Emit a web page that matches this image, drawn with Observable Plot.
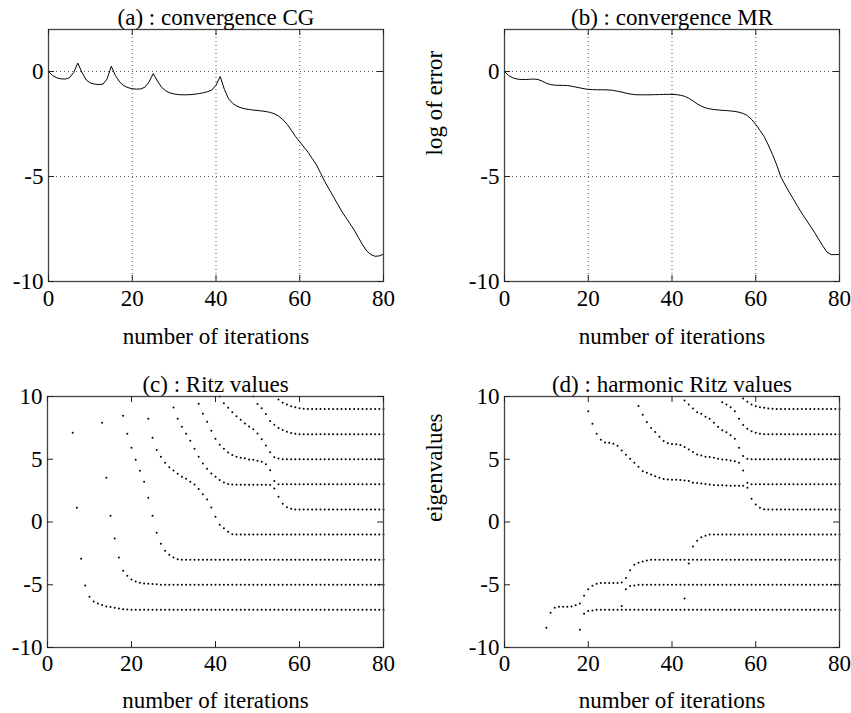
<!DOCTYPE html>
<html><head><meta charset="utf-8">
<script src="https://cdn.jsdelivr.net/npm/d3@7"></script>
<script src="https://cdn.jsdelivr.net/npm/@observablehq/plot@0.6"></script>
<style>
body{margin:0;background:#fff;}
#wrap{position:relative;width:851px;height:713px;background:#fff;}
#wrap svg{position:absolute;overflow:visible;}
</style></head><body><div id="wrap"></div>
<script>
// ---- data ----
const xTicks = [0, 20, 40, 60, 80];
const errTicks = [-10, -5, 0];
const eigTicks = [-10, -5, 0, 5, 10];
const lastIteration = 80;

// log of error per iteration 0..80
const cgError = [0,-0.2,-0.3,-0.35,-0.36,-0.3,-0.05,0.4,-0.05,-0.4,-0.55,-0.6,-0.62,-0.6,-0.35,0.25,-0.2,-0.5,-0.68,-0.77,
 -0.82,-0.84,-0.83,-0.75,-0.5,-0.1,-0.45,-0.75,-0.92,-1.02,-1.07,-1.1,-1.11,-1.11,-1.1,-1.08,-1.05,-1.01,-0.96,-0.88,
 -0.65,-0.24,-0.85,-1.3,-1.52,-1.65,-1.73,-1.78,-1.81,-1.84,-1.86,-1.88,-1.91,-1.95,-2.02,-2.13,-2.3,-2.52,-2.8,-3.1,
 -3.35,-3.6,-3.85,-4.15,-4.45,-4.85,-5.25,-5.6,-5.95,-6.3,-6.65,-6.95,-7.25,-7.55,-7.9,-8.25,-8.55,-8.72,-8.8,-8.78,-8.7];
const mrError = [0,-0.2,-0.3,-0.36,-0.38,-0.38,-0.37,-0.36,-0.38,-0.46,-0.56,-0.62,-0.65,-0.66,-0.66,-0.67,-0.7,-0.74,-0.78,-0.82,
 -0.85,-0.86,-0.87,-0.87,-0.87,-0.88,-0.9,-0.94,-0.98,-1.03,-1.07,-1.1,-1.11,-1.11,-1.11,-1.11,-1.1,-1.1,-1.09,-1.09,
 -1.09,-1.1,-1.13,-1.18,-1.27,-1.4,-1.54,-1.65,-1.73,-1.78,-1.81,-1.83,-1.85,-1.86,-1.88,-1.9,-1.94,-2.0,-2.1,-2.28,
 -2.52,-2.8,-3.1,-3.5,-3.95,-4.45,-5.02,-5.4,-5.75,-6.08,-6.42,-6.75,-7.05,-7.35,-7.65,-7.98,-8.3,-8.6,-8.72,-8.72,-8.71];

// Ritz values: each track starts at an iteration, follows its values, then stays at its converged value
const ritzStarts = [6, 13, 18, 24, 30, 36, 41, 49, 55];
const ritzPaths = [
 [7.11,1.13,-2.93,-5.06,-5.96,-6.33,-6.49,-6.62,-6.73,-6.78,-6.83,-6.89,-6.95,-6.98],
 [7.9,3.52,0.49,-1.31,-2.83,-3.89,-4.29,-4.58,-4.74,-4.85,-4.91,-4.93,-4.95,-4.97],
 [8.46,7.03,5.91,4.96,4.08,3.2,1.93,0.49,-0.86,-1.74,-2.29,-2.61,-2.83,-2.96],
 [8.22,6.71,5.73,5.2,4.72,4.37,4.1,3.84,3.6,3.44,3.2,2.99,2.62,2.22,1.8,1.16,0.42,-0.22,-0.49,-0.78,-0.97],
 [9.13,8.22,7.58,7.03,6.47,5.84,5.2,4.66,4.24,3.87,3.6,3.34,3.15,3.02,2.98,2.97,2.97,2.97,2.96,2.96,2.96,2.96,2.96,2.95,2.66,2.01,1.45,1.18,1.05],
 [9.42,8.62,7.98,7.27,6.63,6.15,5.83,5.54,5.33,5.2,5.12,5.07,4.99,4.96,4.88,4.8,4.61,4.13,3.26],
 [10.0,9.47,9.1,8.75,8.43,8.15,7.85,7.6,7.4,7.05,6.6,6.1,5.55,5.15,5.05],
 [10.0,9.4,9.07,8.6,8.05,7.75,7.5,7.33,7.2,7.1,7.03],
 [9.76,9.5,9.36,9.23,9.15,9.07,9.02]
];
const ritzLimits = [-7, -5, -3, -1, 1, 3, 5, 7, 9];

// harmonic Ritz values
const harmStarts = [10, 18, 20, 28, 32, 43, 43, 52, 57];
const harmPaths = [
 [-8.43,-7.24,-6.84,-6.76,-6.76,-6.76,-6.73,-6.63,-6.49,-5.88,-5.35,-5.08,-4.92,-4.87,-4.87,-4.87,-4.87,-4.87,-4.82,-4.47,-3.84,-3.41,-3.25,-3.14,-3.07],
 [-8.59,-7.31,-7.1,-7.05],
 [8.83,7.82,7.03,6.55,6.34,6.31,6.23,6.07,5.7,5.36,5.04,4.72,4.4,4.05,3.92,3.79,3.65,3.52,3.42,3.39,3.36,3.36,3.34,3.3,3.26,3.12,3.1,3.07,3.03,2.98,2.95,2.93,2.92,2.9,2.88,2.88,2.88,2.88,2.72,1.85,1.4,1.13,1.02],
 [-6.7,-5.35,-5.1,-5.05],
 [9.25,8.55,7.97,7.5,7.17,6.8,6.46,6.28,6.22,6.2,6.13,5.97,5.78,5.57,5.38,5.3,5.2,5.18,5.11,5.03,4.98,4.96,4.9,4.85,4.72,4.11,3.12],
 [-6.09,-3.3,-1.95,-1.5,-1.22,-1.09],
 [9.68,9.36,9.05,8.75,8.62,8.38,8.22,7.9,7.58,7.32,7.16,6.92,6.63,5.91,5.25,5.04],
 [9.55,9.36,9.15,8.83,8.22,7.72,7.43,7.24,7.11,7.03],
 [9.84,9.58,9.36,9.23,9.15,9.1,9.04,9.02]
];
const harmLimits = [-3, -7, 1, -5, 3, -1, 5, 7, 9];

// ---- helpers ----
function trackDots(starts, paths, limits) {
  const out = [];
  starts.forEach((s, k) => {
    paths[k].forEach((v, j) => out.push({x: s + j, y: v}));
    for (let i = s + paths[k].length; i <= lastIteration; i++) out.push({x: i, y: limits[k]});
  });
  return out;
}

const FONT = "Liberation Serif";
const FS = 23;

function panel(o) {
  const frameH = o.height - o.mT - o.mB;
  const frameW = o.width - o.mL - o.mR;
  const tk = 6;
  const marks = [];
  if (o.grid) {
    marks.push(Plot.gridX([20, 40, 60], {stroke: "#555", strokeOpacity: 1, strokeDasharray: "1,3"}));
    marks.push(Plot.gridY([-5, 0], {stroke: "#555", strokeOpacity: 1, strokeDasharray: "1,3"}));
  }
  marks.push(...o.marks);
  marks.push(Plot.frame({stroke: "#444", strokeWidth: 1.3}));
  marks.push(Plot.tickX(xTicks, {x: d => d, insetTop: frameH - tk, stroke: "#222"}));
  marks.push(Plot.tickX(xTicks, {x: d => d, insetBottom: frameH - tk, stroke: "#222"}));
  marks.push(Plot.tickY(o.yTicks, {y: d => d, insetRight: frameW - tk, stroke: "#222"}));
  marks.push(Plot.tickY(o.yTicks, {y: d => d, insetLeft: frameW - tk, stroke: "#222"}));
  marks.push(Plot.axisX({ticks: xTicks, tickSize: 0, tickPadding: o.xPad, fontSize: FS, label: null, tickFormat: d => String(d)}));
  marks.push(Plot.axisY({ticks: o.yTicks, tickSize: 0, tickPadding: 5, fontSize: FS, label: null, tickFormat: d => String(d)}));
  marks.push(Plot.text([o.title], {text: d => d, frameAnchor: "top", dy: -4.5, lineAnchor: "bottom", fontSize: FS, fill: "black"}));
  marks.push(Plot.text(["number of iterations"], {text: d => d, frameAnchor: "bottom", dy: o.xLabelDy, lineAnchor: "middle", fontSize: FS, fill: "black"}));
  if (o.ylabel) marks.push(Plot.text([o.ylabel], {text: d => d, frameAnchor: "left", dx: -70, rotate: -90, lineAnchor: "middle", fontSize: FS, fill: "black"}));
  const svg = Plot.plot({
    width: o.width, height: o.height,
    marginLeft: o.mL, marginRight: o.mR, marginTop: o.mT, marginBottom: o.mB,
    x: {domain: [0, 80]},
    y: {domain: o.yDomain},
    style: {fontFamily: FONT, fontSize: FS + "px", color: "black", background: "transparent", overflow: "visible"},
    marks
  });
  svg.style.left = o.left + "px";
  svg.style.top = o.top + "px";
  document.getElementById("wrap").appendChild(svg);
}

const lineOpts = {x: (d, i) => i, y: d => d, stroke: "black", strokeWidth: 1};
const dotOpts = {x: "x", y: "y", r: 1, fill: "black", stroke: "none"};

panel({left: 0, top: 0, width: 425, height: 356, mL: 48, mR: 42, mT: 29, mB: 75, xPad: 8, xLabelDy: 55,
  yDomain: [-10, 2], yTicks: errTicks, grid: true, title: "(a) : convergence CG",
  marks: [Plot.line(cgError, lineOpts)]});
panel({left: 425, top: 0, width: 426, height: 356, mL: 79, mR: 12, mT: 29, mB: 75, xPad: 8, xLabelDy: 55,
  yDomain: [-10, 2], yTicks: errTicks, grid: true, title: "(b) : convergence MR", ylabel: "log of error",
  marks: [Plot.line(mrError, lineOpts)]});
panel({left: 0, top: 356, width: 425, height: 357, mL: 47, mR: 42, mT: 40, mB: 66, xPad: 7, xLabelDy: 53,
  yDomain: [-10, 10], yTicks: eigTicks, grid: false, title: "(c) : Ritz values",
  marks: [Plot.dot(trackDots(ritzStarts, ritzPaths, ritzLimits), dotOpts)]});
panel({left: 425, top: 356, width: 426, height: 357, mL: 79, mR: 12, mT: 40, mB: 66, xPad: 7, xLabelDy: 53,
  yDomain: [-10, 10], yTicks: eigTicks, grid: false, title: "(d) : harmonic Ritz values", ylabel: "eigenvalues",
  marks: [Plot.dot(trackDots(harmStarts, harmPaths, harmLimits), dotOpts)]});
</script></body></html>
